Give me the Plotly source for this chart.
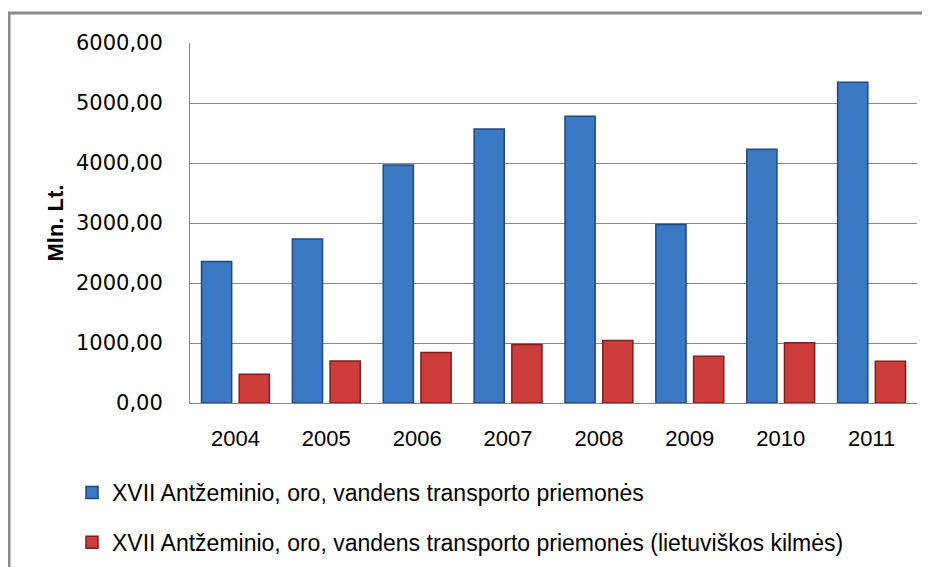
import plotly.graph_objects as go

years = ["2004", "2005", "2006", "2007", "2008", "2009", "2010", "2011"]
total = [2360, 2735, 3965, 4565, 4780, 2975, 4230, 5345]
lithuanian = [480, 700, 840, 975, 1040, 780, 1005, 695]
name_total = "XVII Antžeminio, oro, vandens transporto priemonės"
name_lt = "XVII Antžeminio, oro, vandens transporto priemonės (lietuviškos kilmės)"
y_title = "Mln. Lt."

fig = go.Figure()
fig.add_trace(go.Bar(
    x=years, y=total, name=name_total, legendgroup="a",
    marker=dict(color="#3b79c4", line=dict(color="#23497c", width=1.5)),
))
fig.add_trace(go.Bar(
    x=years, y=lithuanian, name=name_lt, legendgroup="b",
    marker=dict(color="#cc3c3a", line=dict(color="#7d1f1e", width=1.5)),
))

# page body has an 8px margin; compensate so screen coords match
OFF = 8
W, H = 930, 567
# desired plot area on screen: x 190..917, y 43..404
L = 190 - OFF
T = 43 - OFF
R = (W + OFF) - 917
B = (H + OFF) - 404
pw, ph = 917 - 190, 404 - 43

def px(x):
    return (x - 190) / pw

def py(y):
    return (404 - y) / ph

fig.update_layout(
    width=W, height=H,
    margin=dict(l=L, r=R, t=T, b=B),
    paper_bgcolor="white", plot_bgcolor="white",
    separators=", ",
    barmode="group", bargap=0.17, bargroupgap=0.2,
    font=dict(family="Liberation Sans, Arial, sans-serif", color="#000000", size=21),
    showlegend=True,
    legend=dict(
        x=px(72), y=py(471), xanchor="left", yanchor="top",
        orientation="v", tracegroupgap=17,
        font=dict(size=23, family="Liberation Sans, Arial, sans-serif"),
        bgcolor="rgba(0,0,0,0)",
    ),
    shapes=[dict(
        type="rect", xref="paper", yref="paper",
        x0=px(9), x1=px(945), y0=py(590), y1=py(13),
        line=dict(color="#8c8c8c", width=3), fillcolor="rgba(0,0,0,0)",
        layer="above",
    )],
)

fig.update_yaxes(
    range=[0, 6000], dtick=1000, tickformat=".2f",
    showgrid=True, gridcolor="#868686", gridwidth=1,
    showline=True, linecolor="#868686", linewidth=1,
    zeroline=False, ticks="", ticklabelstandoff=22,
    tickfont=dict(family="DejaVu Sans, Verdana, sans-serif", size=21, color="#000000"),
    title=dict(text=y_title, standoff=6,
               font=dict(family="Liberation Sans, Arial, sans-serif", size=22, weight="bold")),
)
fig.update_xaxes(
    showline=True, linecolor="#868686", linewidth=1,
    ticks="", ticklabelstandoff=16,
    tickfont=dict(family="Liberation Sans, Arial, sans-serif", size=22, color="#000000"),
)

fig.write_html("out.html")
